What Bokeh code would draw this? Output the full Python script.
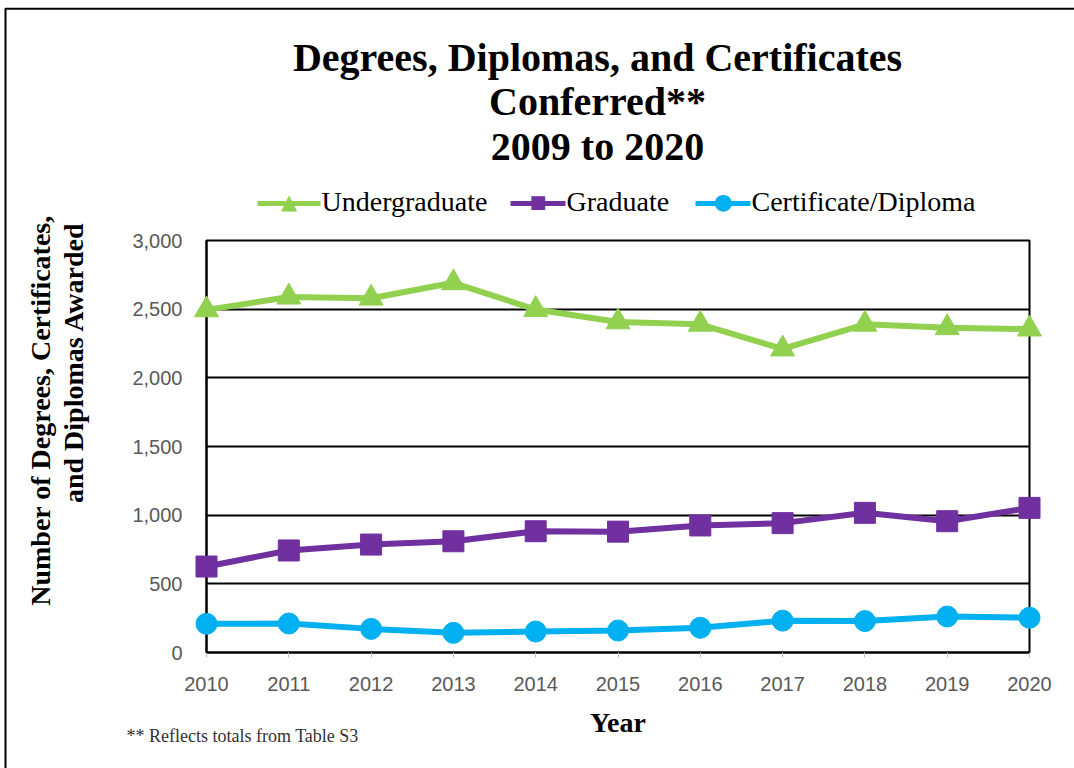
import math
from bokeh.plotting import figure
from bokeh.models import Range1d, FixedTicker, NumeralTickFormatter
from bokeh.core.properties import value
from bokeh.embed import file_html
from bokeh.resources import INLINE

years = [2010, 2011, 2012, 2013, 2014, 2015, 2016, 2017, 2018, 2019, 2020]
undergraduate = [2495, 2588, 2580, 2692, 2497, 2407, 2390, 2210, 2390, 2365, 2355]
graduate = [626, 743, 786, 810, 883, 880, 925, 942, 1017, 956, 1053]
certificate = [209, 211, 172, 143, 153, 160, 180, 232, 229, 262, 253]
y_ticks = [0, 500, 1000, 1500, 2000, 2500, 3000]

series_names = ["Undergraduate", "Graduate", "Certificate/Diploma"]
series_colors = ["#92D050", "#7030A0", "#00B0F0"]
series_markers = ["triangle", "square", "circle"]
series_sizes = [24, 21, 21]
key_symbols = ["\u25B2", "\u25A0", "\u25CF"]
key_symbol_sizes = ["21px", "18px", "22px"]

title_lines = ["Degrees, Diplomas, and Certificates", "Conferred**", "2009 to 2020"]
y_title_lines = ["Number of Degrees, Certificates,", "and Diplomas Awarded"]
footnote = "** Reflects totals from Table S3"

SERIF = "Liberation Serif"
SANS = "Liberation Sans"

# layout (pixels of the 1074x768 canvas)
W, H = 1074, 768
FL, FR, FT, FB = 206, 1029, 240, 652
X0, X1, Y0, Y1 = 2010, 2020, 0, 3000


def px_x(px):
    return X0 + (px - FL) * (X1 - X0) / (FR - FL)


def px_y(py):
    return Y0 + (FB - py) * (Y1 - Y0) / (FB - FT)


p = figure(frame_width=FR - FL, frame_height=FB - FT, output_backend="svg", toolbar_location=None,
           x_range=Range1d(X0, X1), y_range=Range1d(Y0, Y1),
           min_border_left=FL, min_border_right=W - FR, min_border_top=FT, min_border_bottom=H - FB,
           background_fill_color="white", border_fill_color="white")
p.title.visible = False

p.outline_line_color = "black"
p.outline_line_width = 2

p.xgrid.visible = False
p.ygrid.grid_line_color = "black"
p.ygrid.grid_line_width = 2

p.yaxis.ticker = FixedTicker(ticks=y_ticks)
p.yaxis.formatter = NumeralTickFormatter(format="0,0")
p.xaxis.ticker = FixedTicker(ticks=years)

for ax in (p.xaxis[0], p.yaxis[0]):
    ax.axis_line_color = "black"
    ax.axis_line_width = 2
    ax.minor_tick_line_color = None
    ax.major_label_text_font = SANS
    ax.major_label_text_font_size = "20px"
    ax.major_label_text_color = "#595959"
    ax.axis_label_text_font = SERIF
    ax.axis_label_text_font_style = "bold"
    ax.axis_label_text_font_size = "28px"
    ax.axis_label_text_color = "black"

p.yaxis.major_tick_line_color = None
p.yaxis.major_label_standoff = 18

p.xaxis.major_tick_line_color = "#bfbfbf"
p.xaxis.major_tick_out = 5
p.xaxis.major_tick_in = 0
p.xaxis.major_label_standoff = 19
p.xaxis.axis_label = "Year"
p.xaxis.axis_label_standoff = 13

series_values = [undergraduate, graduate, certificate]
for vals, col, mk, sz in zip(series_values, series_colors, series_markers, series_sizes):
    p.line(years, vals, line_color=col, line_width=6)
    p.scatter(years, vals, marker=mk, size=sz, fill_color=col, line_color=col, level="overlay")

# legend row above the plot (key line + marker + label for each series)
key_left_px = [257, 510, 695]
key_right_px = [320, 565, 750]
legend_mid_px = 203
for name, col, sym, ssz, kl, kr in zip(series_names, series_colors, key_symbols, key_symbol_sizes,
                                       key_left_px, key_right_px):
    p.segment(x0=[px_x(kl)], y0=[px_y(legend_mid_px)], x1=[px_x(kr)], y1=[px_y(legend_mid_px)],
              line_color=col, line_width=5, level="overlay")
    p.text(x=[px_x((kl + kr) / 2)], y=[px_y(legend_mid_px - 2)], text=[sym],
           text_font=value("DejaVu Sans"), text_font_size=ssz, text_color=col,
           text_align="center", text_baseline="middle", level="overlay")
    p.text(x=[px_x(kr + 1)], y=[px_y(201)], text=[name],
           text_font=value(SERIF), text_font_size="28px", text_color="black",
           text_align="left", text_baseline="alphabetic", level="overlay")

# chart title (three centred lines)
p.text(x=[px_x(597)] * 3, y=[px_y(57), px_y(101), px_y(146)], text=title_lines,
       text_font=value(SERIF), text_font_style="bold", text_font_size="40px",
       text_color="black", text_align="center", text_baseline="alphabetic", level="overlay")

# vertical axis title (two rotated lines)
p.text(x=[px_x(40), px_x(73)], y=[px_y(410), px_y(362)], text=y_title_lines, angle=math.pi / 2,
       text_font=value(SERIF), text_font_style="bold", text_font_size="28px",
       text_color="black", text_align="center", text_baseline="middle", level="overlay")

# footnote
p.text(x=[px_x(126)], y=[px_y(735)], text=[footnote],
       text_font=value(SERIF), text_font_size="18px", text_color="#333333",
       text_align="left", text_baseline="alphabetic", level="overlay")

# outer chart border
p.quad(left=[px_x(5)], right=[px_x(W + 20)], top=[px_y(8.3)], bottom=[px_y(H + 20)],
       fill_color=None, line_color="black", line_width=2, level="overlay")

open("out.html", "w").write(file_html(p, INLINE))
